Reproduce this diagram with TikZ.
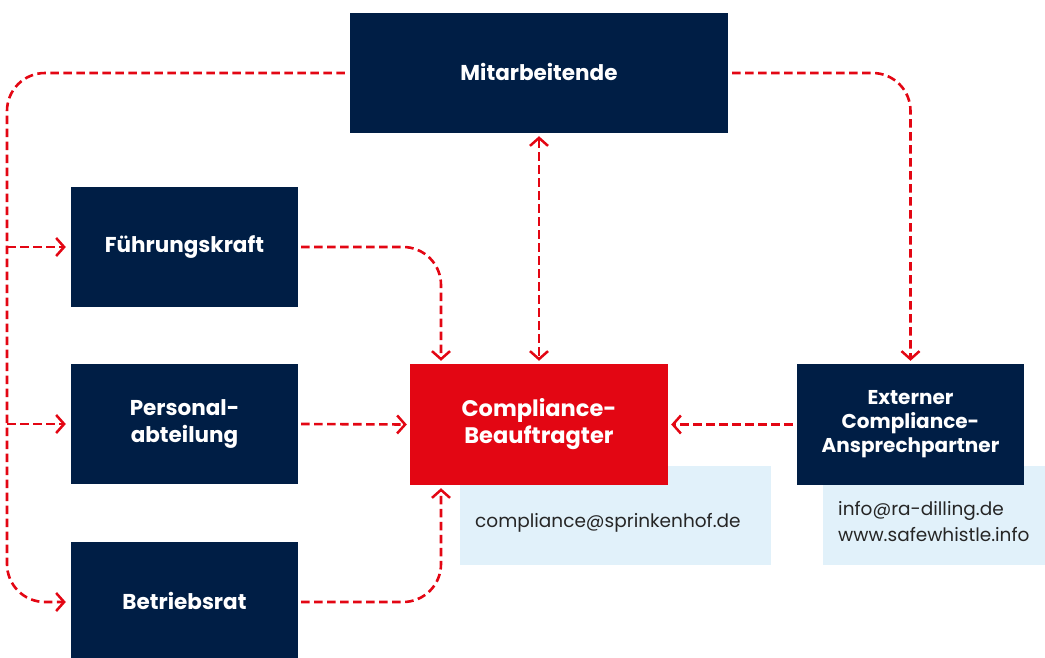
\documentclass[tikz,border=0pt]{standalone}
\usepackage{fontspec}
\setmainfont{Poppins}
\usetikzlibrary{arrows.meta,calc}
\definecolor{navy}{RGB}{0,30,69}
\definecolor{cred}{RGB}{227,6,19}
\definecolor{lblue}{RGB}{225,241,250}
\tikzset{
  darkbox/.style={rectangle,fill=navy,text=white,font=\bfseries\fontsize{21.5}{27}\selectfont,align=center,inner sep=0pt},
  redbox/.style={rectangle,fill=cred,text=white,font=\bfseries\fontsize{22.5}{27}\selectfont,align=center,inner sep=0pt,minimum width=258pt,minimum height=121pt},
  infobox/.style={rectangle,fill=lblue,text=black!85,font=\fontsize{18.5}{26}\selectfont,align=left,inner xsep=15pt,anchor=north west},
  conn/.style={draw=cred,line width=2.6pt,dash pattern=on 8.5pt off 4.5pt,-{Straight Barb[length=8pt,width=18pt,line width=2.5pt]}},
  biconn/.style={conn,{Straight Barb[length=8pt,width=18pt,line width=2.5pt]}-{Straight Barb[length=8pt,width=18pt,line width=2.5pt]}}
}
\begin{document}
\begin{tikzpicture}[x=1pt,y=-1pt]
\useasboundingbox (0,0) rectangle (1045,657);
\clip (0,0) rectangle (1045,657);
% info boxes (behind)
\node[infobox,minimum width=311pt,minimum height=99pt,text width=281pt,text height=28pt,text depth=5pt] (mail) at (460,466) {compliance@sprinkenhof.de};
\node[infobox,minimum width=222pt,minimum height=99pt,text width=200pt] (web) at (823,466) {\\info@ra-dilling.de\\www.safewhistle.info};
% boxes
\node[darkbox,minimum width=378pt,minimum height=120pt] (mit) at (539,73) {\raisebox{2pt}{Mitarbeitende}};
\node[darkbox,minimum width=227pt,minimum height=120pt] (fue) at (184.5,247) {\raisebox{2pt}{Führungskraft}};
\node[darkbox,minimum width=227pt,minimum height=120pt] (per) at (184.5,424) {Personal-\\abteilung};
\node[darkbox,minimum width=227pt,minimum height=120pt] (bet) at (184.5,602) {\raisebox{2pt}{Betriebsrat}};
\node[redbox] (cb) at (539,424.5) {Compliance-\\Beauftragter};
\node[darkbox,minimum width=227pt,minimum height=121pt,font=\bfseries\fontsize{20}{24}\selectfont] (ext) at (910.5,424.5) {Externer\\Compliance-\\Ansprechpartner};
% helper coordinates
\coordinate (lx) at (7,0);
\coordinate (rA) at ([xshift=-98pt]cb.north);
\coordinate (rB) at ([xshift=-98pt]cb.south);
% connectors
\draw[conn,rounded corners=38pt] ([xshift=-5pt]mit.west) -| (lx |- bet.west) -- ([xshift=-5pt]bet.west);
\draw[conn] (lx |- fue.west) -- ([xshift=-5pt]fue.west);
\draw[conn] (lx |- per.west) -- ([xshift=-5pt]per.west);
\draw[conn,rounded corners=38pt] ([xshift=3pt]fue.east) -| ([yshift=3pt]rA);
\draw[conn] ([xshift=3pt]per.east) -- ([xshift=-3pt]cb.west);
\draw[conn,rounded corners=38pt] ([xshift=3pt]bet.east) -| ([yshift=-3pt]rB);
\draw[biconn] ([yshift=-3pt]mit.south) -- ([yshift=3pt]cb.north);
\draw[conn,rounded corners=38pt] ([xshift=4pt]mit.east) -| ([yshift=3pt]ext.north);
\draw[conn] ([xshift=-4pt]ext.west) -- ([xshift=3pt]cb.east);
\end{tikzpicture}
\end{document}
